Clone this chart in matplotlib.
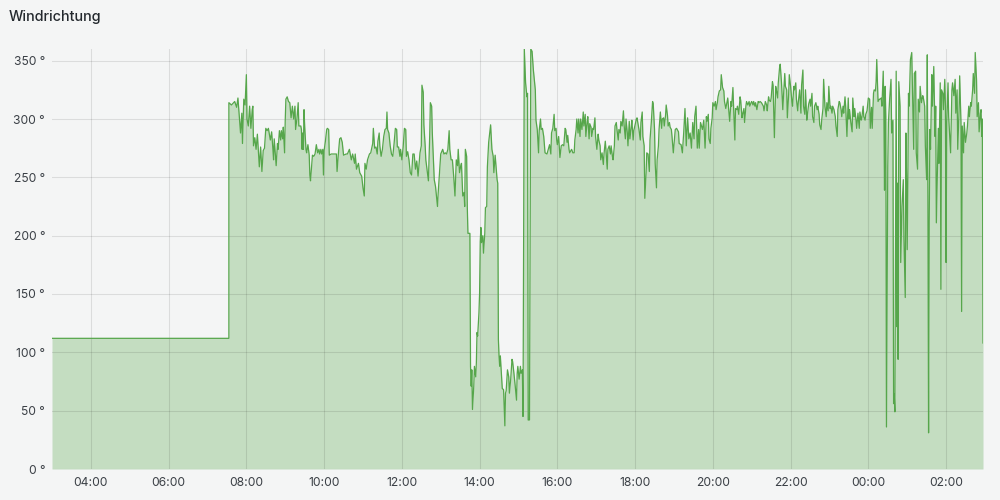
import matplotlib
matplotlib.use("Agg")
import matplotlib.pyplot as plt
import matplotlib.dates as mdates
import datetime as dt

title = "Windrichtung"
y_ticks = [0, 50, 100, 150, 200, 250, 300, 350]
y_unit = "°"
range_start = "03:00"
range_end = "02:57"

times = [
    "03:00","07:33","07:33","07:37","07:42","07:45","07:47","07:49","07:51","07:53",
    "07:54","07:56","07:58","08:00","08:01","08:03","08:05","08:07","08:09","08:10",
    "08:11","08:13","08:15","08:17","08:20","08:22","08:24","08:26","08:28","08:30",
    "08:32","08:34","08:36","08:37","08:39","08:41","08:42","08:43","08:45","08:46",
    "08:48","08:49","08:51","08:53","08:54","08:56","08:57","08:59","09:00","09:01",
    "09:03","09:05","09:07","09:09","09:11","09:13","09:15","09:16","09:18","09:20",
    "09:21","09:24","09:25","09:26","09:27","09:28","09:29","09:30","09:32","09:33",
    "09:35","09:37","09:38","09:39","09:42","09:44","09:46","09:48","09:50","09:52",
    "09:53","09:55","09:56","09:58","09:59","10:00","10:02","10:04","10:05","10:07",
    "10:08","10:11","10:16","10:19","10:20","10:22","10:24","10:26","10:28","10:30",
    "10:34","10:36","10:39","10:42","10:44","10:47","10:48","10:50","10:53","10:55",
    "10:58","11:00","11:02","11:03","11:05","11:07","11:10","11:12","11:15","11:16",
    "11:18","11:20","11:22","11:23","11:25","11:26","11:28","11:30","11:32","11:34",
    "11:36","11:37","11:38","11:40","11:42","11:44","11:46","11:48","11:50","11:52",
    "11:53","11:55","11:57","11:58","12:00","12:02","12:04","12:06","12:07","12:09",
    "12:11","12:13","12:15","12:17","12:19","12:21","12:23","12:25","12:27","12:28",
    "12:30","12:31","12:33","12:34","12:36","12:37","12:40","12:41","12:43","12:44",
    "12:46","12:47","12:49","12:50","12:52","12:53","12:55","12:56","12:58","13:00",
    "13:03","13:05","13:07","13:09","13:11","13:13","13:14","13:16","13:18","13:20",
    "13:22","13:24","13:26","13:27","13:29","13:31","13:32","13:34","13:36","13:37",
    "13:38","13:40","13:41","13:42","13:45","13:46","13:47","13:48","13:49","13:51",
    "13:52","13:54","13:55","13:56","13:57","13:59","14:00","14:01","14:02","14:03",
    "14:05","14:06","14:08","14:09","14:11","14:12","14:14","14:17","14:19","14:21",
    "14:22","14:24","14:27","14:28","14:29","14:30","14:31","14:32","14:33","14:35",
    "14:37","14:39","14:40","14:41","14:43","14:45","14:46","14:48","14:50","14:51",
    "14:53","14:55","14:57","14:58","14:59","15:01","15:03","15:04","15:06","15:07",
    "15:09","15:11","15:13","15:14","15:15","15:17","15:19","15:21","15:23","15:26",
    "15:27","15:29","15:31","15:32","15:34","15:35","15:37","15:39","15:41","15:44",
    "15:48","15:50","15:51","15:53","15:55","15:56","15:58","15:59","16:00","16:02",
    "16:04","16:06","16:08","16:10","16:12","16:13","16:15","16:16","16:18","16:19",
    "16:22","16:24","16:26","16:27","16:29","16:30","16:32","16:33","16:35","16:36",
    "16:38","16:40","16:41","16:43","16:44","16:46","16:47","16:49","16:50","16:52",
    "16:53","16:55","16:56","16:58","16:59","17:01","17:03","17:04","17:06","17:07",
    "17:09","17:11","17:12","17:14","17:15","17:17","17:18","17:20","17:22","17:23",
    "17:25","17:26","17:28","17:29","17:31","17:32","17:34","17:35","17:37","17:38",
    "17:40","17:42","17:43","17:45","17:46","17:48","17:49","17:51","17:52","17:54",
    "17:55","17:57","17:58","18:00","18:02","18:03","18:05","18:06","18:08","18:09",
    "18:11","18:12","18:14","18:15","18:17","18:18","18:20","18:22","18:23","18:25",
    "18:27","18:28","18:30","18:31","18:33","18:34","18:36","18:37","18:39","18:41",
    "18:42","18:44","18:45","18:47","18:48","18:50","18:51","18:53","18:54","18:56",
    "18:57","18:59","19:01","19:02","19:04","19:05","19:07","19:08","19:11","19:13",
    "19:15","19:17","19:19","19:21","19:23","19:25","19:27","19:29","19:31","19:32",
    "19:34","19:36","19:38","19:39","19:41","19:43","19:44","19:46","19:48","19:50",
    "19:51","19:53","19:54","19:56","19:57","19:59","20:00","20:02","20:04","20:05",
    "20:07","20:08","20:10","20:12","20:13","20:15","20:17","20:18","20:20","20:21",
    "20:23","20:24","20:26","20:28","20:29","20:31","20:32","20:34","20:35","20:37",
    "20:38","20:40","20:42","20:43","20:45","20:46","20:48","20:49","20:51","20:52",
    "20:54","20:56","20:57","20:59","21:00","21:02","21:03","21:05","21:06","21:08",
    "21:10","21:11","21:13","21:15","21:18","21:19","21:21","21:23","21:24","21:26",
    "21:27","21:29","21:30","21:32","21:33","21:35","21:37","21:38","21:40","21:41",
    "21:43","21:44","21:46","21:48","21:49","21:51","21:52","21:54","21:55","21:57",
    "21:58","22:00","22:02","22:03","22:05","22:06","22:08","22:09","22:11","22:12",
    "22:14","22:16","22:17","22:19","22:20","22:22","22:23","22:25","22:26","22:28",
    "22:30","22:31","22:33","22:34","22:36","22:37","22:39","22:41","22:42","22:44",
    "22:45","22:47","22:48","22:50","22:51","22:53","22:55","22:56","22:58","22:59",
    "23:01","23:02","23:04","23:05","23:07","23:09","23:10","23:12","23:13","23:15",
    "23:16","23:18","23:19","23:21","23:22","23:24","23:25","23:27","23:29","23:30",
    "23:31","23:33","23:35","23:36","23:38","23:39","23:41","23:42","23:44","23:46",
    "23:47","23:49","23:50","23:52","23:53","23:55","23:56","23:58","00:00","00:02",
    "00:03","00:05","00:06","00:08","00:09","00:11","00:12","00:13","00:15","00:17",
    "00:18","00:20","00:21","00:23","00:24","00:25","00:26","00:27","00:28","00:30",
    "00:31","00:33","00:35","00:36","00:38","00:39","00:40","00:41","00:43","00:44",
    "00:45","00:46","00:47","00:49","00:50","00:52","00:54","00:55","00:57","00:58",
    "00:59","01:00","01:01","01:02","01:03","01:05","01:07","01:08","01:10","01:11",
    "01:13","01:14","01:16","01:17","01:19","01:20","01:22","01:24","01:25","01:27",
    "01:28","01:30","01:31","01:32","01:33","01:34","01:35","01:36","01:38","01:39",
    "01:41","01:43","01:44","01:45","01:47","01:48","01:49","01:51","01:52","01:53",
    "01:55","01:56","01:58","01:59","02:00","02:01","02:03","02:04","02:06","02:07",
    "02:09","02:10","02:12","02:14","02:15","02:17","02:18","02:20","02:21","02:23",
    "02:24","02:25","02:27","02:28","02:30","02:32","02:33","02:35","02:36","02:38",
    "02:39","02:41","02:42","02:44","02:45","02:47","02:48","02:50","02:51","02:53",
    "02:54","02:55","02:56","02:57",
]

values = [
    112,112,314,312,315,310,318,303,288,305,
    279,317,312,338,300,294,311,292,308,311,
    277,284,274,287,259,276,255,273,275,292,
    290,292,285,282,289,274,265,283,268,260,
    279,274,290,282,290,283,293,271,299,317,
    319,315,314,301,311,300,311,291,300,314,
    294,294,291,274,288,274,308,294,274,271,
    278,269,252,247,269,268,270,278,271,274,
    270,274,270,274,252,273,281,291,292,291,
    269,270,270,270,255,270,283,284,280,269,
    270,270,274,265,270,262,270,257,262,254,
    251,241,234,262,257,265,270,271,279,292,
    275,276,270,281,288,277,268,274,285,291,
    292,306,291,288,277,270,268,279,292,291,
    276,276,268,274,265,276,292,291,268,272,
    265,254,252,270,270,257,264,251,265,271,
    277,329,323,295,277,265,251,247,286,314,
    311,288,262,248,242,236,225,236,253,270,
    274,270,271,270,274,290,274,265,265,251,
    234,265,260,274,254,260,262,234,237,225,
    274,268,225,202,202,88,71,85,51,71,
    88,79,91,117,114,134,151,195,207,194,
    200,185,202,224,225,259,280,295,274,268,
    254,269,248,245,111,97,88,97,88,69,
    68,37,65,67,85,79,65,77,94,92,
    82,71,59,82,88,77,88,82,85,45,
    360,331,319,322,42,42,360,358,342,325,
    299,291,271,290,300,291,292,285,271,270,
    278,270,288,292,304,290,292,282,278,285,
    267,277,278,277,292,291,280,286,274,271,
    274,271,271,282,291,300,288,300,285,300,
    291,306,294,304,285,298,302,283,296,293,
    285,292,291,301,285,274,287,282,277,265,
    271,261,270,281,274,257,274,277,270,277,
    268,265,277,294,297,291,282,291,288,298,
    294,307,295,283,300,288,277,298,283,293,
    299,282,290,295,300,301,294,291,282,297,
    306,285,277,232,254,271,270,255,282,297,
    315,313,291,262,241,265,277,291,306,292,
    300,301,294,303,312,303,294,297,293,291,
    285,271,285,291,292,291,289,279,278,271,
    288,309,277,301,283,288,275,297,283,302,
    311,275,291,275,297,293,291,299,275,302,
    298,304,283,279,292,301,314,311,315,308,
    314,319,324,325,338,327,324,315,309,312,
    318,311,298,315,311,327,311,282,309,308,
    311,304,319,316,301,304,309,297,311,315,
    312,315,311,314,315,312,315,311,314,308,
    315,314,315,314,311,307,315,312,307,319,
    316,315,318,332,329,284,328,325,318,331,
    344,347,331,308,319,339,328,325,301,321,
    338,328,315,311,328,325,331,317,307,315,
    325,305,329,342,311,304,325,299,304,313,
    317,311,322,302,297,311,314,308,311,304,
    295,291,299,309,334,311,302,314,307,328,
    309,311,305,311,308,302,294,285,308,315,
    314,308,302,311,305,319,311,285,318,300,
    308,297,289,318,302,309,299,292,305,292,
    306,299,301,311,302,299,304,307,318,317,
    292,310,292,322,325,324,332,351,315,317,
    317,318,311,341,308,239,328,302,36,259,
    297,318,334,288,299,56,64,49,341,122,
    245,94,332,311,177,225,248,197,147,288,
    248,188,248,322,311,351,357,328,274,339,
    341,271,257,317,306,328,314,320,318,311,
    277,248,355,228,31,211,291,274,338,311,
    345,285,311,211,265,292,262,331,154,325,
    322,308,334,311,177,297,331,302,282,271,
    325,331,320,334,305,325,274,307,337,297,
    135,294,271,297,280,288,294,311,302,314,
    311,325,339,322,357,334,302,314,289,305,
    308,285,300,108,
]

assert len(times) == len(values), (len(times), len(values))

BASE = dt.datetime(2024, 5, 1)


def to_datetimes(labels):
    out, day, prev = [], 0, -1
    for s in labels:
        h, m = map(int, s.split(":"))
        mins = h * 60 + m
        if mins < prev:
            day += 1
        prev = mins
        out.append(BASE + dt.timedelta(days=day, minutes=mins))
    return out


x = to_datetimes(times)
x_start = to_datetimes([range_start])[0]
x_end = to_datetimes([range_start, range_end])[1]

plt.rcParams['font.family'] = ['Inter', 'DejaVu Sans']

BG = '#f4f5f5'
GREEN = '#56a64b'
TEXT = '#3b4046'

fig = plt.figure(figsize=(10, 5), dpi=100, facecolor=BG)
ax = fig.add_axes([0.052, 0.062, 0.931, 0.840])
ax.set_facecolor(BG)

ax.fill_between(x, values, 0, color=GREEN, alpha=0.3, linewidth=0, zorder=1)
ax.plot(x, values, color=GREEN, linewidth=0.9, zorder=3)

ax.set_xlim(x_start, x_end)
ax.set_ylim(0, 360)

ax.set_yticks(y_ticks)
ax.set_yticklabels([f"{v} {y_unit}" for v in y_ticks])
ax.xaxis.set_major_locator(mdates.HourLocator(byhour=range(0, 24, 2)))
ax.xaxis.set_major_formatter(mdates.DateFormatter('%H:%M'))

ax.set_axisbelow('line')
ax.grid(True, color='black', alpha=0.1, linewidth=0.75)

for s in ax.spines.values():
    s.set_visible(False)

ax.tick_params(axis='both', length=0, labelsize=8.7, colors=TEXT)
ax.tick_params(axis='y', pad=5)
ax.tick_params(axis='x', pad=6)

fig.text(0.009, 1 - 17 / 500, title, ha='left', va='center',
         fontsize=10.3, fontweight='medium', color='#24292e')

fig.savefig('out.png', dpi=100, facecolor=BG)
